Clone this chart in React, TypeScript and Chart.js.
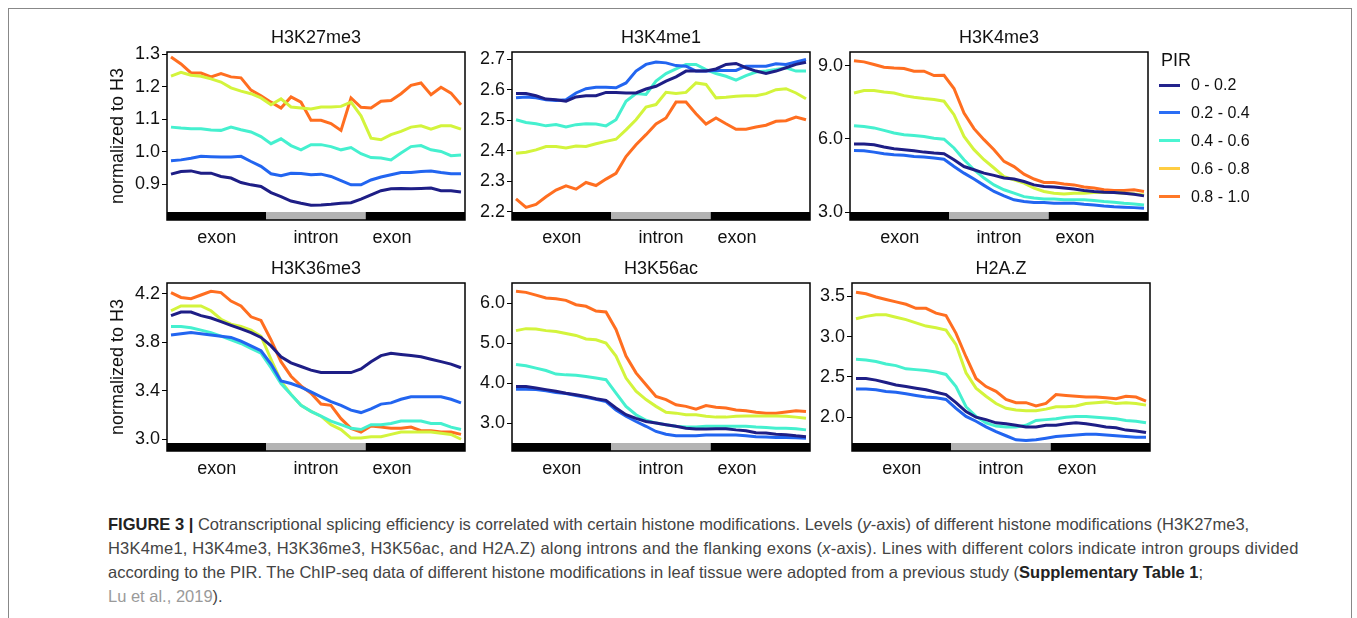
import React, { useEffect, useRef } from 'react';
import { Chart, registerables } from 'chart.js';

Chart.register(...registerables);

// ---------- data ----------
const bins = [0, 1, 2, 3, 4, 5, 6, 7, 8, 9, 10, 11, 12, 13, 14, 15, 16, 17, 18, 19, 20, 21, 22, 23, 24, 25, 26, 27, 28, 29];
const groups = ['0 - 0.2', '0.2 - 0.4', '0.4 - 0.6', '0.6 - 0.8', '0.8 - 1.0'];
const regionLabels = ['exon', 'intron', 'exon'];
const regionBounds = [-0.4, 9.53, 19.47, 29.4];
const regionLabelAt = [4.57, 14.5, 22.1];

// H3K27me3
const k27Navy = [0.931, 0.939, 0.941, 0.934, 0.934, 0.924, 0.919, 0.905, 0.898, 0.893, 0.874, 0.862, 0.848, 0.841, 0.835, 0.836, 0.838, 0.841, 0.843, 0.854, 0.867, 0.880, 0.886, 0.887, 0.886, 0.887, 0.888, 0.880, 0.880, 0.876];
const k27Blue = [0.972, 0.975, 0.980, 0.986, 0.985, 0.984, 0.984, 0.986, 0.970, 0.955, 0.932, 0.926, 0.934, 0.933, 0.929, 0.931, 0.924, 0.911, 0.898, 0.898, 0.913, 0.922, 0.929, 0.936, 0.936, 0.939, 0.941, 0.936, 0.932, 0.932];
const k27Aqua = [1.076, 1.073, 1.071, 1.071, 1.067, 1.066, 1.076, 1.068, 1.061, 1.047, 1.025, 1.040, 1.019, 1.006, 1.022, 1.022, 1.016, 1.006, 1.013, 0.994, 0.982, 0.981, 0.975, 0.996, 1.016, 1.019, 1.006, 1.001, 0.988, 0.990];
const k27Lime = [1.233, 1.245, 1.236, 1.233, 1.225, 1.215, 1.197, 1.187, 1.179, 1.166, 1.145, 1.163, 1.138, 1.135, 1.132, 1.138, 1.138, 1.140, 1.153, 1.111, 1.042, 1.037, 1.053, 1.063, 1.076, 1.080, 1.070, 1.080, 1.080, 1.070];
const k27Orange = [1.292, 1.271, 1.243, 1.243, 1.231, 1.241, 1.231, 1.228, 1.190, 1.173, 1.153, 1.135, 1.169, 1.153, 1.097, 1.097, 1.087, 1.066, 1.166, 1.137, 1.135, 1.156, 1.158, 1.179, 1.205, 1.212, 1.176, 1.199, 1.181, 1.145];

// H3K4me1
const m1Navy = [2.588, 2.588, 2.581, 2.570, 2.568, 2.563, 2.577, 2.581, 2.581, 2.592, 2.592, 2.590, 2.590, 2.603, 2.612, 2.629, 2.643, 2.662, 2.662, 2.662, 2.669, 2.684, 2.687, 2.673, 2.662, 2.654, 2.662, 2.673, 2.684, 2.691];
const m1Blue = [2.574, 2.577, 2.574, 2.568, 2.565, 2.568, 2.590, 2.604, 2.609, 2.609, 2.607, 2.623, 2.662, 2.684, 2.692, 2.689, 2.680, 2.678, 2.662, 2.662, 2.664, 2.664, 2.664, 2.678, 2.678, 2.678, 2.686, 2.684, 2.692, 2.700];
const m1Aqua = [2.502, 2.493, 2.489, 2.482, 2.486, 2.478, 2.486, 2.489, 2.488, 2.482, 2.502, 2.563, 2.588, 2.585, 2.629, 2.654, 2.669, 2.684, 2.684, 2.667, 2.654, 2.645, 2.632, 2.647, 2.659, 2.662, 2.667, 2.673, 2.662, 2.662];
const m1Lime = [2.392, 2.395, 2.403, 2.414, 2.414, 2.409, 2.416, 2.414, 2.423, 2.431, 2.438, 2.469, 2.502, 2.544, 2.552, 2.592, 2.588, 2.592, 2.623, 2.618, 2.574, 2.576, 2.579, 2.581, 2.581, 2.588, 2.601, 2.604, 2.590, 2.571];
const m1Orange = [2.242, 2.214, 2.224, 2.249, 2.271, 2.285, 2.274, 2.296, 2.286, 2.307, 2.326, 2.381, 2.420, 2.453, 2.488, 2.508, 2.560, 2.560, 2.522, 2.488, 2.508, 2.489, 2.471, 2.471, 2.478, 2.484, 2.497, 2.499, 2.511, 2.502];

// H3K4me3
const m3Navy = [5.79, 5.79, 5.76, 5.67, 5.60, 5.56, 5.52, 5.46, 5.42, 5.39, 5.15, 4.87, 4.74, 4.60, 4.51, 4.40, 4.36, 4.26, 4.12, 4.05, 4.03, 3.99, 3.95, 3.89, 3.85, 3.82, 3.81, 3.78, 3.74, 3.67];
const m3Blue = [5.53, 5.52, 5.46, 5.39, 5.35, 5.33, 5.28, 5.26, 5.22, 5.17, 4.87, 4.60, 4.36, 4.10, 3.85, 3.67, 3.51, 3.44, 3.40, 3.40, 3.37, 3.37, 3.37, 3.33, 3.30, 3.26, 3.23, 3.21, 3.19, 3.16];
const m3Aqua = [6.54, 6.51, 6.45, 6.35, 6.24, 6.17, 6.14, 6.10, 6.03, 5.99, 5.63, 5.15, 4.74, 4.40, 4.12, 3.92, 3.78, 3.64, 3.58, 3.54, 3.54, 3.51, 3.51, 3.51, 3.48, 3.44, 3.41, 3.37, 3.34, 3.30];
const m3Lime = [7.88, 7.98, 7.98, 7.92, 7.88, 7.77, 7.70, 7.65, 7.61, 7.54, 6.99, 6.10, 5.56, 5.15, 4.81, 4.46, 4.33, 4.19, 3.99, 3.85, 3.78, 3.75, 3.78, 3.78, 3.81, 3.81, 3.81, 3.78, 3.75, 3.71];
const m3Orange = [9.20, 9.15, 9.04, 8.93, 8.90, 8.88, 8.77, 8.77, 8.59, 8.60, 8.06, 7.06, 6.42, 5.97, 5.56, 5.08, 4.87, 4.56, 4.36, 4.22, 4.22, 4.16, 4.12, 4.03, 3.99, 3.92, 3.89, 3.89, 3.92, 3.85];

// H3K36me3
const k36Navy = [4.02, 4.05, 4.05, 4.02, 4.00, 3.97, 3.94, 3.91, 3.88, 3.84, 3.77, 3.68, 3.63, 3.60, 3.57, 3.55, 3.55, 3.55, 3.55, 3.58, 3.64, 3.69, 3.71, 3.70, 3.69, 3.68, 3.66, 3.64, 3.62, 3.59];
const k36Blue = [3.86, 3.87, 3.88, 3.87, 3.86, 3.85, 3.84, 3.81, 3.77, 3.73, 3.62, 3.48, 3.46, 3.43, 3.39, 3.35, 3.31, 3.28, 3.24, 3.22, 3.25, 3.29, 3.30, 3.33, 3.35, 3.35, 3.35, 3.35, 3.33, 3.30];
const k36Aqua = [3.93, 3.93, 3.92, 3.90, 3.88, 3.85, 3.82, 3.79, 3.75, 3.71, 3.59, 3.46, 3.37, 3.28, 3.23, 3.19, 3.15, 3.12, 3.09, 3.08, 3.12, 3.12, 3.13, 3.15, 3.15, 3.15, 3.13, 3.13, 3.10, 3.08];
const k36Lime = [4.06, 4.10, 4.10, 4.10, 4.06, 3.99, 3.95, 3.93, 3.90, 3.85, 3.66, 3.48, 3.37, 3.28, 3.23, 3.19, 3.12, 3.08, 3.01, 3.01, 3.02, 3.02, 3.04, 3.06, 3.06, 3.06, 3.06, 3.05, 3.04, 3.00];
const k36Orange = [4.21, 4.17, 4.16, 4.19, 4.22, 4.21, 4.14, 4.10, 4.01, 3.98, 3.82, 3.64, 3.52, 3.44, 3.38, 3.29, 3.28, 3.17, 3.09, 3.06, 3.11, 3.10, 3.09, 3.09, 3.10, 3.07, 3.07, 3.06, 3.06, 3.04];

// H3K56ac
const k56Navy = [3.92, 3.92, 3.88, 3.84, 3.80, 3.75, 3.71, 3.67, 3.61, 3.57, 3.38, 3.21, 3.12, 3.04, 3.00, 2.96, 2.92, 2.87, 2.85, 2.85, 2.86, 2.86, 2.83, 2.81, 2.76, 2.75, 2.72, 2.71, 2.68, 2.66];
const k56Blue = [3.85, 3.85, 3.84, 3.81, 3.77, 3.74, 3.69, 3.65, 3.60, 3.54, 3.33, 3.17, 3.04, 2.92, 2.79, 2.72, 2.68, 2.68, 2.68, 2.70, 2.70, 2.70, 2.70, 2.68, 2.66, 2.65, 2.64, 2.64, 2.63, 2.62];
const k56Aqua = [4.47, 4.44, 4.38, 4.32, 4.23, 4.21, 4.20, 4.17, 4.13, 4.09, 3.75, 3.42, 3.21, 3.07, 3.00, 2.96, 2.92, 2.90, 2.90, 2.92, 2.92, 2.92, 2.92, 2.92, 2.90, 2.89, 2.87, 2.87, 2.86, 2.83];
const k56Lime = [5.32, 5.37, 5.36, 5.32, 5.30, 5.25, 5.20, 5.11, 5.09, 5.01, 4.68, 4.13, 3.80, 3.59, 3.42, 3.27, 3.25, 3.21, 3.21, 3.17, 3.15, 3.15, 3.17, 3.18, 3.18, 3.18, 3.18, 3.17, 3.15, 3.12];
const k56Orange = [6.31, 6.28, 6.21, 6.14, 6.12, 6.08, 5.97, 5.93, 5.81, 5.79, 5.35, 4.68, 4.26, 3.96, 3.67, 3.59, 3.46, 3.42, 3.35, 3.44, 3.40, 3.38, 3.33, 3.31, 3.27, 3.25, 3.25, 3.28, 3.31, 3.29];

// H2A.Z
const h2Navy = [2.48, 2.48, 2.46, 2.43, 2.40, 2.38, 2.36, 2.34, 2.31, 2.28, 2.18, 2.07, 2.00, 1.97, 1.93, 1.92, 1.90, 1.88, 1.88, 1.90, 1.90, 1.92, 1.93, 1.92, 1.90, 1.88, 1.87, 1.84, 1.83, 1.81];
const h2Blue = [2.35, 2.35, 2.34, 2.32, 2.31, 2.29, 2.27, 2.25, 2.24, 2.22, 2.11, 2.01, 1.95, 1.88, 1.82, 1.77, 1.72, 1.71, 1.72, 1.74, 1.76, 1.77, 1.78, 1.79, 1.79, 1.78, 1.77, 1.76, 1.75, 1.75];
const h2Aqua = [2.72, 2.71, 2.69, 2.66, 2.64, 2.60, 2.59, 2.58, 2.56, 2.53, 2.38, 2.13, 2.01, 1.93, 1.89, 1.88, 1.88, 1.90, 1.96, 1.97, 1.98, 2.00, 2.01, 2.01, 2.00, 1.99, 1.98, 1.96, 1.95, 1.93];
const h2Lime = [3.22, 3.25, 3.27, 3.27, 3.24, 3.21, 3.17, 3.13, 3.11, 3.08, 2.90, 2.55, 2.36, 2.26, 2.17, 2.11, 2.09, 2.08, 2.08, 2.10, 2.13, 2.13, 2.14, 2.17, 2.18, 2.19, 2.17, 2.18, 2.17, 2.15];
const h2Orange = [3.55, 3.53, 3.49, 3.46, 3.43, 3.40, 3.35, 3.35, 3.29, 3.26, 3.04, 2.75, 2.48, 2.38, 2.32, 2.22, 2.18, 2.18, 2.14, 2.17, 2.28, 2.27, 2.26, 2.25, 2.25, 2.24, 2.23, 2.26, 2.25, 2.20];

// tick labels
const k27Ticks = [0.9, 1.0, 1.1, 1.2, 1.3];
const m1Ticks = [2.2, 2.3, 2.4, 2.5, 2.6, 2.7];
const m3Ticks = [3.0, 6.0, 9.0];
const k36Ticks = [3.0, 3.4, 3.8, 4.2];
const k56Ticks = [3.0, 4.0, 5.0, 6.0];
const h2Ticks = [2.0, 2.5, 3.0, 3.5];

// ---------- styles ----------
const lineColors = ['#1e1e86', '#2265f0', '#45f0cf', '#d3f43c', '#ff6e20'];
const legendColors = ['#23238c', '#2a6ef5', '#4bf5d2', '#ffcd41', '#ff7828'];
const regionColors = ['#000000', '#b3b3b3', '#000000'];
const FONT = '"Liberation Sans", Arial, Helvetica, sans-serif';

type PanelCfg = {
  title: string;
  series: number[][];
  ticks: number[];
  min: number;
  max: number;
  yTitle: boolean;
  left: number;
  top: number;
};

const panels: PanelCfg[] = [
  { title: 'H3K27me3', series: [k27Navy, k27Blue, k27Aqua, k27Lime, k27Orange], ticks: k27Ticks, min: 0.7896, max: 1.3077, yTitle: true, left: 107, top: 20 },
  { title: 'H3K4me1', series: [m1Navy, m1Blue, m1Aqua, m1Lime, m1Orange], ticks: m1Ticks, min: 2.1726, max: 2.7247, yTitle: false, left: 452, top: 20 },
  { title: 'H3K4me3', series: [m3Navy, m3Blue, m3Aqua, m3Lime, m3Orange], ticks: m3Ticks, min: 2.684, max: 9.554, yTitle: false, left: 790, top: 20 },
  { title: 'H3K36me3', series: [k36Navy, k36Blue, k36Aqua, k36Lime, k36Orange], ticks: k36Ticks, min: 2.903, max: 4.289, yTitle: true, left: 107, top: 251 },
  { title: 'H3K56ac', series: [k56Navy, k56Blue, k56Aqua, k56Lime, k56Orange], ticks: k56Ticks, min: 2.30, max: 6.515, yTitle: false, left: 452, top: 251 },
  { title: 'H2A.Z', series: [h2Navy, h2Blue, h2Aqua, h2Lime, h2Orange], ticks: h2Ticks, min: 1.581, max: 3.664, yTitle: false, left: 792, top: 251 },
];

const AXIS_W = 60;
const PLOT_W = 298;
const CANVAS_W = AXIS_W + PLOT_W + 4;
const CANVAS_H = 230;

const decorPlugin = {
  id: 'decor',
  afterDatasetsDraw(chart: any, _args: any, opts: any) {
    const { ctx, chartArea: a } = chart;
    const x = chart.scales.x;
    ctx.save();
    for (let r = 0; r < regionLabels.length; r++) {
      const x0 = x.getPixelForValue(regionBounds[r]);
      const x1 = x.getPixelForValue(regionBounds[r + 1]);
      ctx.fillStyle = regionColors[r];
      ctx.fillRect(x0, a.bottom - 8, x1 - x0, 8);
    }
    ctx.strokeStyle = '#000';
    ctx.lineWidth = 1.5;
    ctx.strokeRect(a.left, a.top, a.right - a.left, a.bottom - a.top);
    ctx.fillStyle = '#111';
    ctx.font = `18px ${FONT}`;
    ctx.textAlign = 'center';
    ctx.textBaseline = 'middle';
    ctx.fillText(opts.title, (a.left + a.right) / 2, a.top - 14);
    regionLabels.forEach((t, r) => {
      ctx.fillText(t, x.getPixelForValue(regionLabelAt[r]), a.bottom + 18);
    });
    ctx.restore();
  },
};

function Panel({ cfg }: { cfg: PanelCfg }) {
  const ref = useRef<HTMLCanvasElement>(null);
  useEffect(() => {
    const decimals = 1;
    const chart = new Chart(ref.current as HTMLCanvasElement, {
      type: 'line',
      data: {
        datasets: cfg.series.map((s, k) => ({
          label: groups[k],
          data: s.map((v, i) => ({ x: bins[i], y: v })),
          borderColor: lineColors[k],
          backgroundColor: lineColors[k],
          borderWidth: 3,
          pointRadius: 0,
          tension: 0,
          fill: false,
        })),
      },
      options: {
        responsive: false,
        animation: false,
        events: [],
        layout: { padding: { top: 32, bottom: 30, left: 0, right: 4 } },
        plugins: {
          legend: { display: false },
          tooltip: { enabled: false },
          decor: { title: cfg.title },
        } as any,
        scales: {
          x: { type: 'linear', min: -0.4, max: 29.4, display: false },
          y: {
            type: 'linear',
            min: cfg.min,
            max: cfg.max,
            afterBuildTicks: (s: any) => {
              s.ticks = cfg.ticks.map((v) => ({ value: v }));
            },
            afterFit: (s: any) => {
              s.width = AXIS_W;
            },
            ticks: {
              callback: (v: any) => Number(v).toFixed(decimals),
              color: '#111',
              font: { family: FONT, size: 18 },
              padding: 2,
            },
            grid: { drawOnChartArea: false, drawTicks: true, tickLength: 5, color: '#000', lineWidth: 1 },
            border: { display: false },
            title: {
              display: cfg.yTitle,
              text: 'normalized to H3',
              color: '#111',
              font: { family: FONT, size: 18 },
              padding: 0,
            },
          },
        },
      } as any,
      plugins: [decorPlugin],
    });
    return () => chart.destroy();
  }, [cfg]);
  return (
    <canvas
      ref={ref}
      width={CANVAS_W}
      height={CANVAS_H}
      style={{ position: 'absolute', left: cfg.left, top: cfg.top, width: CANVAS_W, height: CANVAS_H }}
    />
  );
}

const captionStyle: React.CSSProperties = {
  position: 'absolute',
  left: 108,
  top: 512,
  fontFamily: FONT,
  fontSize: 16.5,
  lineHeight: '24px',
  color: '#444',
  whiteSpace: 'nowrap',
};

export default function App() {
  return (
    <div style={{ position: 'absolute', left: 0, top: 0, width: 1357, height: 618, overflow: 'hidden', background: '#fff' }}>
      <div style={{ position: 'absolute', left: 8, top: 8, width: 1344, height: 700, border: '1px solid #888', boxSizing: 'border-box' }} />
      {panels.map((p) => (
        <Panel key={p.title} cfg={p} />
      ))}
      <div style={{ position: 'absolute', left: 1161, top: 50, fontFamily: FONT, fontSize: 18, lineHeight: '20px', color: '#111' }}>PIR</div>
      {groups.map((g, k) => (
        <div key={g} style={{ position: 'absolute', left: 1159, top: 85 + k * 27.9 - 10, height: 20, display: 'flex', alignItems: 'center', fontFamily: FONT, fontSize: 16, color: '#111' }}>
          <span style={{ display: 'inline-block', width: 21, height: 3, background: legendColors[k], marginRight: 11 }} />
          <span>{g}</span>
        </div>
      ))}
      <div style={captionStyle}>
        <div>
          <b style={{ color: '#222' }}>FIGURE 3 |</b> Cotranscriptional splicing efficiency is correlated with certain histone modifications. Levels (<i>y</i>-axis) of different histone modifications (H3K27me3,
        </div>
        <div style={{ letterSpacing: '0.2px' }}>
          H3K4me1, H3K4me3, H3K36me3, H3K56ac, and H2A.Z) along introns and the flanking exons (<i>x</i>-axis). Lines with different colors indicate intron groups divided
        </div>
        <div>
          according to the PIR. The ChIP-seq data of different histone modifications in leaf tissue were adopted from a previous study (<b style={{ color: '#222' }}>Supplementary Table 1</b>;
        </div>
        <div>
          <span style={{ color: '#9a9a9a' }}>Lu et al., 2019</span>).
        </div>
      </div>
    </div>
  );
}
